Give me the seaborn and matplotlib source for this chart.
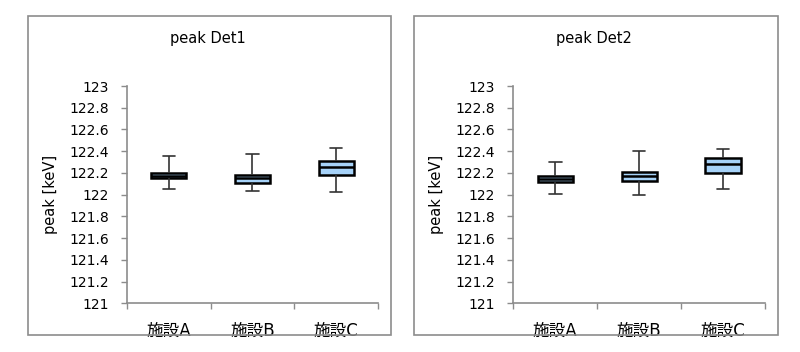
import numpy as np
import pandas as pd
import matplotlib
matplotlib.use("Agg")
import matplotlib.pyplot as plt
from matplotlib.patches import Rectangle
import seaborn as sns

# Five-number summaries: [min, Q1, median, Q3, max]
sites = ["施設A", "施設B", "施設C"]
det1_A = [122.056, 122.150, 122.170, 122.200, 122.352]
det1_B = [122.030, 122.110, 122.150, 122.185, 122.370]
det1_C = [122.020, 122.180, 122.257, 122.310, 122.430]
det2_A = [122.003, 122.120, 122.148, 122.170, 122.305]
det2_B = [122.000, 122.130, 122.176, 122.210, 122.400]
det2_C = [122.050, 122.200, 122.278, 122.340, 122.420]
titles = ["peak Det1", "peak Det2"]
ylabel = "peak [keV]"
yticks = [121, 121.2, 121.4, 121.6, 121.8, 122, 122.2, 122.4, 122.6, 122.8, 123]
ytick_labels = ["121", "121.2", "121.4", "121.6", "121.8", "122",
                "122.2", "122.4", "122.6", "122.8", "123"]

sns.set_theme(style="white", rc={"text.color": "black", "axes.labelcolor": "black",
                                 "xtick.color": "black", "ytick.color": "black"})
plt.rcParams["font.family"] = ["DejaVu Sans", "Noto Sans CJK JP"]

def make_df(a, b, c):
    rows = []
    for s, vals in zip(sites, [a, b, c]):
        for v in vals:
            rows.append({"site": s, "peak": v})
    return pd.DataFrame(rows)

dfs = [make_df(det1_A, det1_B, det1_C), make_df(det2_A, det2_B, det2_C)]

fig = plt.figure(figsize=(8, 3.52), dpi=100)
W, H = 800, 352

frames = [(28, 16, 391, 335), (414, 16, 778, 335)]
axes_px = [(127, 86, 378, 303.3), (513.3, 86, 765, 303.3)]

for i in range(2):
    fx0, fy0, fx1, fy1 = frames[i]
    fig.patches.append(Rectangle((fx0 / W, 1 - fy1 / H), (fx1 - fx0) / W, (fy1 - fy0) / H,
                                 transform=fig.transFigure, fill=False,
                                 edgecolor="#8c8c8c", linewidth=1.2))
    ax0, ay0, ax1, ay1 = axes_px[i]
    ax = fig.add_axes([ax0 / W, 1 - ay1 / H, (ax1 - ax0) / W, (ay1 - ay0) / H])
    ax.set_facecolor("none")
    sns.boxplot(data=dfs[i], x="site", y="peak", whis=np.inf, width=0.42,
                color="#A6D2F8", saturation=1, linecolor="black", linewidth=1.8,
                capwidths=0.15,
                whiskerprops={"linewidth": 1.2, "color": "#333333"},
                capprops={"linewidth": 1.2, "color": "#333333"},
                ax=ax)
    ax.set_ylim(121, 123)
    ax.set_xlim(-0.5, 2.5)
    ax.set_yticks(yticks)
    ax.set_yticklabels(ytick_labels, fontsize=10)
    ax.set_xticks([0, 1, 2])
    ax.set_xticklabels(sites, fontsize=12)
    ax.set_xticks([-0.5, 0.5, 1.5, 2.5], minor=True)
    ax.tick_params(axis="x", which="major", length=0, pad=13, labelcolor="black")
    ax.tick_params(axis="x", which="minor", length=4, width=1, color="#8c8c8c", bottom=True)
    ax.tick_params(axis="y", which="major", length=4, width=1, color="#8c8c8c", left=True,
                   pad=9, labelcolor="black")
    ax.set_xlabel("")
    ax.set_ylabel(ylabel, fontsize=10.5, labelpad=8, color="black")
    for side in ["top", "right"]:
        ax.spines[side].set_visible(False)
    for side in ["left", "bottom"]:
        ax.spines[side].set_color("#8c8c8c")
        ax.spines[side].set_linewidth(1.2)
    fig.text(((fx0 + fx1) / 2 - 2) / W, 1 - 38 / H, titles[i], ha="center", va="center",
             fontsize=10.5, color="black")

fig.savefig("out.png", dpi=100)
